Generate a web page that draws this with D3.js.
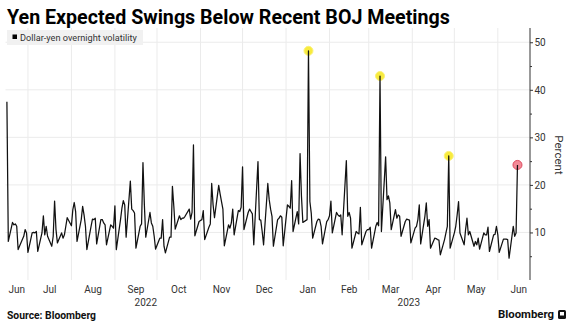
<!DOCTYPE html>
<html>
<head>
<meta charset="utf-8">
<script src="https://cdn.jsdelivr.net/npm/d3@7"></script>
<style>
  html, body { margin: 0; padding: 0; background: #ffffff; }
  svg { display: block; }
  text { font-family: Roboto, "Liberation Sans", sans-serif; }
</style>
</head>
<body>
<svg id="chart" width="571" height="325"></svg>
<script>
// ---- Data -------------------------------------------------------------
const chartTitle = "Yen Expected Swings Below Recent BOJ Meetings";
const seriesName = "Dollar-yen overnight volatility";
const sourceText = "Source: Bloomberg";
const yAxisTitle = "Percent";

// Trading days (weekdays) from first to last observation
const firstDay = "2022-06-16";
const lastDay = "2023-06-15";

// Overnight implied volatility, percent, one value per weekday
const overnightVol = [
  // Jun 2022
  37.5, 8.1, 12.1, 11.6, 11.8, 11.3, 6.4, 8.5, 9.2, 10.6, 9.9,
  // Jul
  5.8, 9.9, 10.0, 9.9, 10.2, 6.0, 9.9, 13.5, 9.5, 11.3, 9.2, 7.1, 9.2, 16.6, 10.6, 7.8, 9.9, 8.8, 9.5, 11.3, 13.1,
  // Aug
  11.4, 14.8, 16.3, 14.4, 8.1, 12.7, 15.5, 13.7, 11.3, 6.4, 11.3, 12.8, 12.7, 13.0, 7.6, 12.7, 12.7, 12.0, 11.6, 7.4, 11.6, 11.3, 10.9,
  // Sep
  15.6, 6.4, 12.7, 15.1, 16.7, 15.8, 9.0, 20.8, 14.9, 14.6, 14.1, 6.7, 11.3, 11.8, 24.7, 15.8, 9.0, 14.2, 12.0, 11.3, 9.2, 6.5,
  // Oct
  8.8, 8.8, 12.7, 7.1, 5.7, 9.0, 9.0, 19.7, 15.5, 10.7, 13.5, 12.7, 13.0, 13.0, 13.4, 14.9, 12.8, 14.2, 28.4, 9.3, 12.3,
  // Nov
  12.5, 12.7, 14.6, 8.5, 11.1, 11.8, 20.3, 15.8, 13.1, 19.9, 18.1, 16.5, 14.9, 7.2, 11.6, 10.9, 12.0, 14.9, 9.5, 14.6, 14.4, 15.3,
  // Dec
  23.8, 10.6, 14.2, 14.9, 14.4, 13.9, 7.4, 24.9, 12.7, 12.6, 10.2, 7.4, 20.3, 16.9, 14.9, 13.4, 7.1, 12.7, 13.0, 13.5, 13.2, 7.2,
  // Jan 2023
  15.8, 15.5, 15.1, 20.9, 10.2, 14.4, 11.8, 26.6, 17.6, 12.1, 12.7, 48.2, 16.5, 14.0, 8.8, 12.3, 12.8, 12.7, 11.3, 7.6, 12.3, 12.7,
  // Feb
  13.5, 16.6, 9.9, 14.2, 13.7, 13.4, 13.7, 9.5, 25.1, 13.4, 14.2, 13.0, 6.7, 10.2, 9.9, 9.7, 15.3, 7.4, 10.2, 10.6,
  // Mar
  10.6, 11.1, 6.7, 11.3, 12.1, 11.4, 42.9, 10.2, 25.9, 16.9, 17.7, 16.2, 10.6, 14.8, 13.0, 13.7, 13.4, 9.2, 12.3, 12.8, 12.7, 12.6, 7.8,
  // Apr
  10.9, 11.3, 12.7, 15.8, 7.6, 13.4, 16.2, 11.3, 12.7, 6.7, 8.8, 8.7, 8.5, 8.4, 5.3, 8.5, 9.9, 11.3, 26.1, 6.7,
  // May
  9.9, 11.3, 13.7, 16.5, 9.9, 7.4, 10.6, 13.0, 9.5, 10.2, 7.1, 8.1, 7.4, 8.8, 6.5, 9.9, 9.5, 9.5, 11.1, 6.0, 9.5, 9.6, 11.3,
  // Jun
  9.5, 5.8, 8.6, 8.6, 8.6, 8.5, 4.6, 11.3, 9.2, 9.9, 24.2
];

// Eve-of-meeting readings that are highlighted
const pastMeetingDays = ["2023-01-17", "2023-03-09", "2023-04-27"];
const upcomingMeetingDays = ["2023-06-15"];

// Axis ticks
const yMajorTicks = [10, 20, 30, 40, 50];
const yMinorTicks = [5, 15, 25, 35, 45];
const monthLabels = ["Jun", "Jul", "Aug", "Sep", "Oct", "Nov", "Dec", "Jan", "Feb", "Mar", "Apr", "May", "Jun"];
const yearLabels = ["2022", "2023"];

// ---- Setup ------------------------------------------------------------
const parse = d3.timeParse("%Y-%m-%d");
const fmt = d3.timeFormat("%Y-%m-%d");

const tradingDays = d3.timeDay
  .range(parse(firstDay), d3.timeDay.offset(parse(lastDay), 1))
  .filter(d => d.getDay() !== 0 && d.getDay() !== 6);

const series = tradingDays.map((date, i) => ({ date, value: overnightVol[i] }));

const svg = d3.select("#chart");
const plot = { left: 5.5, right: 531.5, top: 28, bottom: 280 };
const axisX = 530;

const x = d3.scaleTime()
  .domain([new Date(2022, 5, 15), new Date(2023, 5, 25)])
  .range([plot.left, plot.right]);
const y = d3.scaleLinear()
  .domain([0, 53])
  .range([plot.bottom, plot.top]);

const gridColor = "#ebebeb";
const textColor = "#333333";

// Shrink a text element's font size until it fits the given width
function fitWidth(sel, width) {
  const node = sel.node();
  const size = parseFloat(sel.attr("font-size"));
  const w = node.getComputedTextLength();
  if (w > 0) sel.attr("font-size", (size * width / w).toFixed(2));
}

// ---- Grid ------------------------------------------------------------
const monthStarts = d3.timeMonth.range(new Date(2022, 6, 1), new Date(2023, 5, 2));
svg.append("g")
  .selectAll("line")
  .data(monthStarts)
  .join("line")
  .attr("x1", d => x(d)).attr("x2", d => x(d))
  .attr("y1", plot.top).attr("y2", plot.bottom)
  .attr("stroke", gridColor).attr("stroke-width", 1);

svg.append("g")
  .selectAll("line")
  .data(yMajorTicks)
  .join("line")
  .attr("x1", plot.left).attr("x2", axisX)
  .attr("y1", d => y(d)).attr("y2", d => y(d))
  .attr("stroke", gridColor).attr("stroke-width", 1);

// ---- Legend ----------------------------------------------------------
const legend = svg.append("g");
legend.append("rect")
  .attr("x", 7).attr("y", 30).attr("width", 136).attr("height", 15)
  .attr("fill", "#f1f1f1");
legend.append("rect")
  .attr("x", 12.5).attr("y", 34.5).attr("width", 4.5).attr("height", 4.5)
  .attr("fill", "#000");
const legendText = legend.append("text")
  .attr("x", 20).attr("y", 40.5)
  .attr("font-size", 9).attr("fill", textColor)
  .text(seriesName);
fitWidth(legendText, 117);

// ---- Markers ---------------------------------------------------------
const byDate = new Map(series.map(d => [fmt(d.date), d]));
svg.append("g")
  .selectAll("circle")
  .data(pastMeetingDays.map(k => byDate.get(k)))
  .join("circle")
  .attr("cx", d => x(d.date)).attr("cy", d => y(d.value))
  .attr("r", 4.5)
  .attr("fill", "#f7e81c").attr("fill-opacity", 0.85)
  .attr("stroke", "#fbf27a").attr("stroke-width", 1);

svg.append("g")
  .selectAll("circle")
  .data(upcomingMeetingDays.map(k => byDate.get(k)))
  .join("circle")
  .attr("cx", d => x(d.date)).attr("cy", d => y(d.value))
  .attr("r", 4.5)
  .attr("fill", "#f27d8c").attr("fill-opacity", 0.9)
  .attr("stroke", "#dd4a5e").attr("stroke-width", 1);

// ---- Line ------------------------------------------------------------
const line = d3.line()
  .x(d => x(d.date))
  .y(d => y(d.value));

svg.append("path")
  .datum(series)
  .attr("d", line)
  .attr("fill", "none")
  .attr("stroke", "#111")
  .attr("stroke-width", 1.25)
  .attr("stroke-linejoin", "round");

// ---- Y axis (right) --------------------------------------------------
svg.append("line")
  .attr("x1", axisX).attr("x2", axisX)
  .attr("y1", plot.top).attr("y2", plot.bottom)
  .attr("stroke", "#333").attr("stroke-width", 1);

const yAxis = svg.append("g")
  .attr("transform", `translate(${axisX},0)`)
  .call(d3.axisRight(y).tickValues(yMajorTicks).tickSize(3).tickPadding(1.5).tickFormat(d3.format("d")));
yAxis.select(".domain").remove();
yAxis.selectAll("line").attr("stroke", "#333");
yAxis.selectAll("text")
  .attr("font-size", 10).attr("fill", textColor)
  .attr("font-family", "Roboto, 'Liberation Sans', sans-serif");

const yMinor = svg.append("g")
  .attr("transform", `translate(${axisX},0)`)
  .call(d3.axisRight(y).tickValues(yMinorTicks).tickSize(2).tickFormat(""));
yMinor.select(".domain").remove();
yMinor.selectAll("line").attr("stroke", "#333");

svg.append("text")
  .attr("transform", `translate(555,155) rotate(90)`)
  .attr("text-anchor", "middle")
  .attr("font-size", 11.5).attr("fill", textColor)
  .text(yAxisTitle);

// ---- X axis labels ---------------------------------------------------
const domainStart = x.domain()[0];
const monthSpans = d3.timeMonth.range(new Date(2022, 5, 1), new Date(2023, 6, 1)).map((m, i) => {
  const start = m < domainStart ? domainStart : m;
  const end = d3.timeMonth.offset(m, 1);
  return { label: monthLabels[i], cx: (x(start) + x(end)) / 2 };
});

svg.append("g")
  .selectAll("text")
  .data(monthSpans)
  .join("text")
  .attr("x", d => d.cx).attr("y", 293)
  .attr("text-anchor", "middle")
  .attr("font-size", 10).attr("fill", textColor)
  .text(d => d.label);

const yearSpans = [
  { label: yearLabels[0], from: x.domain()[0], to: new Date(2023, 0, 1) },
  { label: yearLabels[1], from: new Date(2023, 0, 1), to: x.domain()[1] }
];
svg.append("g")
  .selectAll("text")
  .data(yearSpans)
  .join("text")
  .attr("x", d => (x(d.from) + x(d.to)) / 2).attr("y", 306)
  .attr("text-anchor", "middle")
  .attr("font-size", 10).attr("fill", textColor)
  .text(d => d.label);

// ---- Title & footer --------------------------------------------------
const title = svg.append("text")
  .attr("x", 7).attr("y", 24)
  .attr("font-size", 18).attr("font-weight", "bold")
  .attr("font-family", "'DejaVu Sans', sans-serif")
  .attr("fill", "#000")
  .text(chartTitle);
fitWidth(title, 443);

const source = svg.append("text")
  .attr("x", 7).attr("y", 319)
  .attr("font-size", 9.5).attr("font-weight", "bold")
  .attr("font-family", "'DejaVu Sans', sans-serif")
  .attr("fill", "#111")
  .text(sourceText);
fitWidth(source, 89);

const brand = svg.append("text")
  .attr("x", 498).attr("y", 318)
  .attr("font-size", 12).attr("font-weight", "bold")
  .attr("font-family", "'Liberation Sans', Arial, sans-serif")
  .attr("fill", "#111")
  .text("Bloomberg");
fitWidth(brand, 56);

const icon = svg.append("g").attr("transform", "translate(558,310)");
icon.append("rect")
  .attr("width", 8).attr("height", 9).attr("rx", 1.5)
  .attr("fill", "#111");
icon.append("rect")
  .attr("x", 2).attr("y", 2).attr("width", 4).attr("height", 3.5)
  .attr("fill", "#fff");
</script>
</body>
</html>
